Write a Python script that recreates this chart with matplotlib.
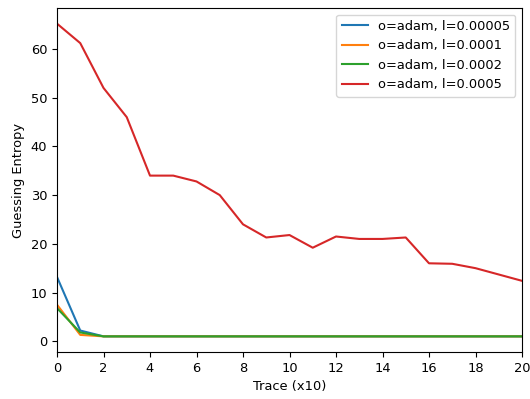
import numpy as np
from matplotlib import pyplot as plt

trace = np.arange(0, 21)
ge_00005 = [13.2, 2.2, 1, 1, 1, 1, 1, 1, 1, 1, 1, 1, 1, 1, 1, 1, 1, 1, 1, 1, 1]
ge_0001 = [7.5, 1.3, 1, 1, 1, 1, 1, 1, 1, 1, 1, 1, 1, 1, 1, 1, 1, 1, 1, 1, 1]
ge_0002 = [6.8, 1.8, 1, 1, 1, 1, 1, 1, 1, 1, 1, 1, 1, 1, 1, 1, 1, 1, 1, 1, 1]
ge_0005 = [65.2, 61.2, 52, 46, 34, 34, 32.8, 30, 24, 21.3, 21.8, 19.2, 21.5,
           21, 21, 21.3, 16, 15.9, 15, 13.7, 12.4]
labels = ["o=adam, l=0.00005", "o=adam, l=0.0001", "o=adam, l=0.0002", "o=adam, l=0.0005"]

plt.rcParams['font.size'] = 9.4

fig = plt.figure(figsize=[5.3, 3.99], dpi=100)
ax = fig.add_axes([57/530, 1 - 352/399, 465/530, 344/399])
for ys, lab in zip([ge_00005, ge_0001, ge_0002, ge_0005], labels):
    ax.plot(trace, ys, label=lab)
ax.set_xlim(0, 20)
ax.set_xticks(range(0, 21, 2))
ax.set_xlabel("Trace (x10)")
ax.set_ylabel("Guessing Entropy")
ax.legend(loc="upper right")
fig.savefig("out.png", dpi=100)
